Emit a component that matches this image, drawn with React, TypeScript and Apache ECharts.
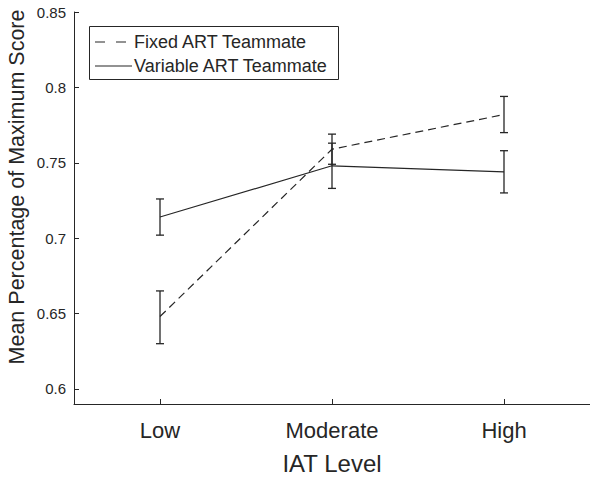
import React, { useEffect, useRef } from "react";
import * as echarts from "echarts";

const categories = ["Low", "Moderate", "High"];
const seriesNames = ["Fixed ART Teammate", "Variable ART Teammate"];
const fixedMean = [0.648, 0.759, 0.782];
const fixedLow = [0.630, 0.749, 0.770];
const fixedHigh = [0.665, 0.769, 0.794];
const variableMean = [0.714, 0.748, 0.744];
const variableLow = [0.702, 0.733, 0.730];
const variableHigh = [0.726, 0.763, 0.758];
const yTicks = [0.6, 0.65, 0.7, 0.75, 0.8, 0.85];
const xTicks = [1, 2, 3];

const FONT = "'Liberation Sans', Arial, sans-serif";
const INK = "#262626";
const DASH = [8, 5];

function errorBarSeries(low: number[], high: number[]) {
  return {
    type: "custom",
    silent: true,
    data: low.map((l, i) => [i + 1, l, high[i]]),
    renderItem: (params: any, api: any) => {
      const x = api.value(0);
      const p1 = api.coord([x, api.value(1)]);
      const p2 = api.coord([x, api.value(2)]);
      const cap = 4;
      const style = { stroke: INK, lineWidth: 1.3 };
      return {
        type: "group",
        children: [
          { type: "line", shape: { x1: p1[0], y1: p1[1], x2: p2[0], y2: p2[1] }, style },
          { type: "line", shape: { x1: p1[0] - cap, y1: p1[1], x2: p1[0] + cap, y2: p1[1] }, style },
          { type: "line", shape: { x1: p2[0] - cap, y1: p2[1], x2: p2[0] + cap, y2: p2[1] }, style },
        ],
      };
    },
    z: 3,
  };
}

export default function App() {
  const ref = useRef<HTMLDivElement>(null);
  useEffect(() => {
    document.body.style.margin = "0";
    document.body.style.overflow = "hidden";
    const chart = echarts.init(ref.current!, null, { renderer: "svg" });
    chart.setOption({
      animation: false,
      backgroundColor: "#ffffff",
      grid: { left: 74, right: -6, top: 12, bottom: 75 },
      xAxis: {
        type: "value",
        min: 0.5,
        max: 3.5,
        splitLine: { show: false },
        axisLine: { lineStyle: { color: INK, width: 1 } },
        axisTick: { inside: true, length: 5, customValues: xTicks, lineStyle: { color: INK } },
        axisLabel: {
          customValues: xTicks,
          formatter: (v: number) => categories[Math.round(v) - 1] ?? "",
          fontFamily: FONT,
          fontSize: 22,
          color: INK,
          margin: 15,
        },
      },
      yAxis: {
        type: "value",
        min: 0.59,
        max: 0.85,
        splitLine: { show: false },
        axisLine: { show: true, lineStyle: { color: INK, width: 1 } },
        axisTick: { show: true, inside: true, length: 5, customValues: yTicks, lineStyle: { color: INK } },
        axisLabel: {
          customValues: yTicks,
          formatter: (v: number) => String(v),
          fontFamily: FONT,
          fontSize: 15,
          color: INK,
          margin: 8,
        },
      },
      graphic: [
        {
          type: "text",
          x: 17,
          y: 187,
          rotation: Math.PI / 2,
          style: {
            text: "Mean Percentage of Maximum Score",
            fontFamily: FONT,
            fontSize: 21.5,
            fill: INK,
            align: "center",
            verticalAlign: "middle",
          },
        },
        {
          type: "text",
          x: 332,
          y: 463,
          style: {
            text: "IAT Level",
            fontFamily: FONT,
            fontSize: 24,
            fill: INK,
            align: "center",
            verticalAlign: "middle",
          },
        },
        {
          type: "group",
          z: 10,
          children: [
            {
              type: "rect",
              shape: { x: 89.5, y: 26.5, width: 249, height: 53 },
              style: { fill: "#ffffff", stroke: INK, lineWidth: 1 },
            },
            {
              type: "line",
              shape: { x1: 95, y1: 42, x2: 126, y2: 42 },
              style: { stroke: INK, lineWidth: 1.2, lineDash: [10, 11] },
            },
            {
              type: "line",
              shape: { x1: 95, y1: 66, x2: 132, y2: 66 },
              style: { stroke: INK, lineWidth: 1.2 },
            },
            {
              type: "text",
              x: 134,
              y: 42,
              style: { text: seriesNames[0], fontFamily: FONT, fontSize: 18, fill: INK, verticalAlign: "middle" },
            },
            {
              type: "text",
              x: 134,
              y: 66,
              style: { text: seriesNames[1], fontFamily: FONT, fontSize: 18, fill: INK, verticalAlign: "middle" },
            },
          ],
        },
      ],
      series: [
        {
          name: seriesNames[0],
          type: "line",
          data: fixedMean.map((v, i) => [i + 1, v]),
          symbol: "none",
          lineStyle: { color: INK, width: 1.2, type: DASH },
          itemStyle: { color: INK },
          z: 2,
        },
        {
          name: seriesNames[1],
          type: "line",
          data: variableMean.map((v, i) => [i + 1, v]),
          symbol: "none",
          lineStyle: { color: INK, width: 1.2, type: "solid" },
          itemStyle: { color: INK },
          z: 2,
        },
        errorBarSeries(fixedLow, fixedHigh),
        errorBarSeries(variableLow, variableHigh),
      ],
    });
    return () => chart.dispose();
  }, []);
  return <div ref={ref} style={{ width: 590, height: 479 }} />;
}
